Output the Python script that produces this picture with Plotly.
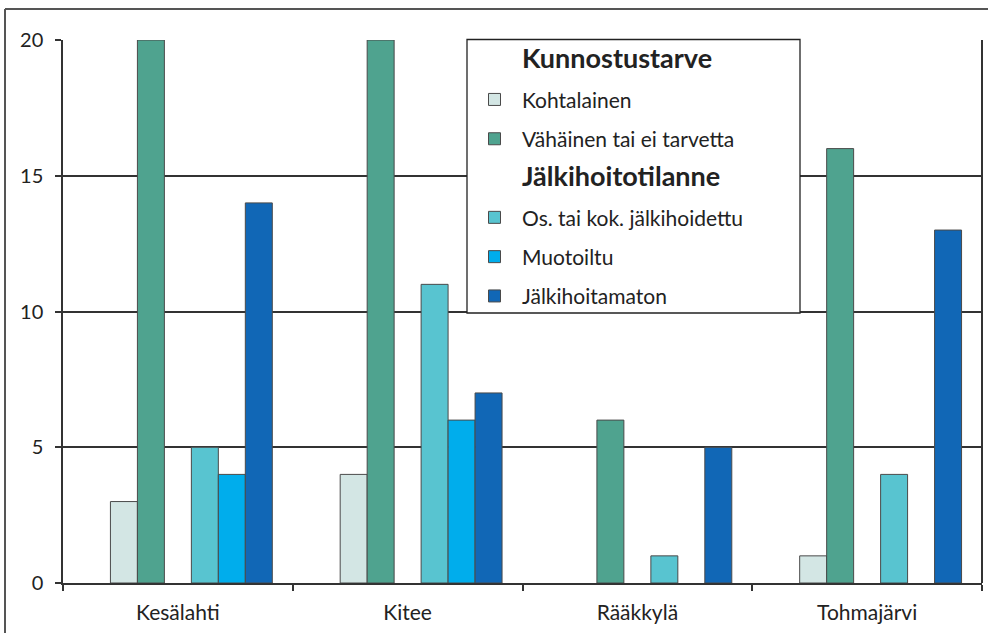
import plotly.graph_objects as go

categories = ["Kesälahti", "Kitee", "Rääkkylä", "Tohmajärvi"]
header_1 = "Kunnostustarve"
header_2 = "Jälkihoitotilanne"
series_names = ["Kohtalainen", "Vähäinen tai ei tarvetta",
                "Os. tai kok. jälkihoidettu", "Muotoiltu", "Jälkihoitamaton"]
kohtalainen = [3, 4, None, 1]
vahainen = [20, 20, 6, 16]
os_tai_kok = [5, 11, 1, 4]
muotoiltu = [4, 6, None, None]
jalkihoitamaton = [14, 7, 5, 13]
y_ticks = [0, 5, 10, 15, 20]

colors = ["#d3e6e4", "#4fa38f", "#58c4d0", "#00adec", "#1167b6"]
FONT = "Lato, 'Open Sans', sans-serif"

fig = go.Figure()

def header(name, grp):
    fig.add_trace(go.Bar(
        x=categories, y=[None] * len(categories),
        name="<b><span style='font-size:27px'>" + name + "</span></b>",
        marker=dict(color="rgba(0,0,0,0)", line=dict(width=0)),
        legendgroup=grp, hoverinfo="skip"))

def series(name, vals, color, grp):
    fig.add_trace(go.Bar(
        x=categories, y=vals, name=name,
        marker=dict(color=color, line=dict(color="#4a4a4a", width=1)),
        legendgroup=grp))

header(header_1, "g0")
series(series_names[0], kohtalainen, colors[0], "g1")
series(series_names[1], vahainen, colors[1], "g2")
header(header_2, "g3")
series(series_names[2], os_tai_kok, colors[2], "g4")
series(series_names[3], muotoiltu, colors[3], "g5")
series(series_names[4], jalkihoitamaton, colors[4], "g6")

PL, PT, PW, PH = 63, 40, 919, 543

def px(x):
    return (x - PL) / PW

def py(y):
    return 1 - (y - PT) / PH

fig.update_layout(
    width=988, height=633,
    margin=dict(l=63, r=6, t=40, b=50),
    paper_bgcolor="white", plot_bgcolor="white",
    barmode="group", bargap=0.178, bargroupgap=0,
    font=dict(family=FONT, size=19, color="#222"),
    showlegend=True,
    legend=dict(
        x=px(467), xanchor="left", y=1.0, yanchor="top",
        bgcolor="rgba(0,0,0,0)", borderwidth=0,
        font=dict(family=FONT, size=21, color="#222"),
        tracegroupgap=9, traceorder="grouped", itemwidth=45,
        itemclick=False, itemdoubleclick=False,
    ),
    xaxis=dict(
        showline=True, linecolor="#333", linewidth=1.5,
        ticks="outside", tickson="boundaries", ticklen=6, tickcolor="#333",
        tickwidth=1.5, showgrid=False, tickfont=dict(size=21),
        ticklabelstandoff=10,
    ),
    yaxis=dict(
        range=[0, 20], tickvals=y_ticks, showline=True, linecolor="#333",
        linewidth=1.5, ticks="outside", ticklen=6, tickcolor="#333",
        tickwidth=1.5, showgrid=True, gridcolor="#333", gridwidth=1.5,
        zeroline=False, tickfont=dict(size=20), ticklabelstandoff=8,
    ),
    shapes=[
        dict(type="line", xref="paper", yref="paper", x0=1, x1=1, y0=0, y1=1,
             line=dict(color="#333", width=2)),
        dict(type="line", xref="paper", yref="paper", x0=px(5), x1=1.01,
             y0=py(9), y1=py(9), line=dict(color="#555", width=2)),
        dict(type="line", xref="paper", yref="paper", x0=px(5), x1=px(5),
             y0=py(9), y1=-0.2, line=dict(color="#555", width=2)),
        dict(type="rect", xref="paper", yref="paper", layer="above",
             x0=px(467), x1=px(800), y0=py(313), y1=py(39.5),
             fillcolor="white", line=dict(color="#222", width=1.3)),
    ],
)

fig.write_html("out.html", post_script="document.body.style.margin='0';",
               config={"displayModeBar": False})
